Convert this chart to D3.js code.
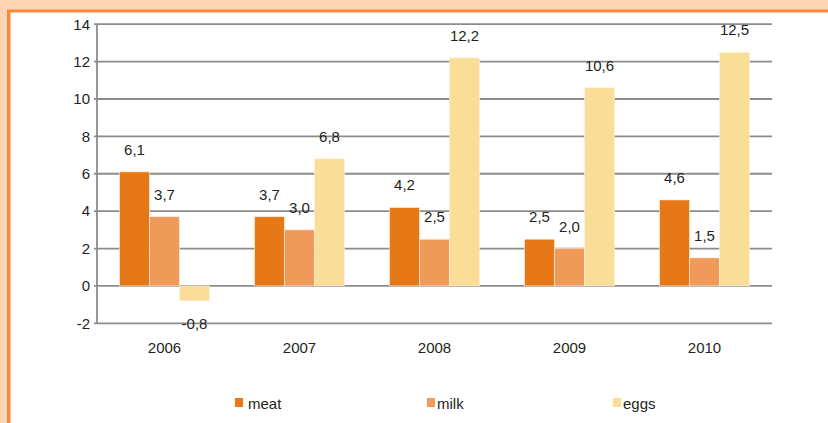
<!DOCTYPE html>
<html><head><meta charset="utf-8">
<script src="https://cdn.jsdelivr.net/npm/d3@7"></script>
<style>body{margin:0;background:#fff}svg{display:block;font-family:"Liberation Sans",Arial,sans-serif}</style>
</head><body><svg id="c" width="828" height="423"></svg>
<script>
const years = ["2006","2007","2008","2009","2010"];
const seriesNames = ["meat","milk","eggs"];
const meat = [6.1, 3.7, 4.2, 2.5, 4.6];
const milk = [3.7, 3.0, 2.5, 2.0, 1.5];
const eggs = [-0.8, 6.8, 12.2, 10.6, 12.5];
const yTicks = [-2, 0, 2, 4, 6, 8, 10, 12, 14];
const colors = ["#e67817", "#f09a5a", "#fadd97"];
const FS = 15;

const svg = d3.select("#c");
// frame
svg.append("rect").attr("x",0).attr("y",0).attr("width",828).attr("height",423).attr("fill","#fdd5b5");
svg.append("rect").attr("x",7).attr("y",9.5).attr("width",821).attr("height",423).attr("fill","#f98a3a");
svg.append("rect").attr("x",10.5).attr("y",12.5).attr("width",818).attr("height",423).attr("fill","#ffffff");

const x0 = d3.scaleBand().domain(years).range([97, 772]).paddingInner(0).paddingOuter(0);
const groupW = 90;
const x1 = d3.scaleBand().domain(seriesNames).range([0, groupW]);
const y = d3.scaleLinear().domain([-2, 14]).range([323.3, 24.2]);

const grid = svg.append("g");
yTicks.forEach(t => {
  grid.append("line").attr("x1",94).attr("x2",772).attr("y1",y(t)).attr("y2",y(t))
    .attr("stroke","#8c8c8c").attr("stroke-width",1.8);
});
grid.append("line").attr("x1",97).attr("x2",97).attr("y1",y(14)).attr("y2",y(-2))
  .attr("stroke","#8c8c8c").attr("stroke-width",1.8);

const yAxis = d3.axisLeft(y).tickValues(yTicks).tickSize(0).tickPadding(0).tickFormat(d => String(d));
const ga = svg.append("g").attr("transform","translate(90,0)").call(yAxis);
ga.select(".domain").remove();
ga.selectAll("text").attr("font-size",FS).attr("fill","#231f20").attr("font-family","Liberation Sans, Arial, sans-serif").attr("x",0);

const seriesData = [meat, milk, eggs];
const fmt = v => d3.format(".1f")(v).replace(".", ",").replace("−","-");
seriesNames.forEach((s, si) => {
  const g = svg.append("g");
  years.forEach((yr, i) => {
    const v = seriesData[si][i];
    const bx = x0(yr) + (x0.bandwidth() - groupW)/2 + x1(s);
    g.append("rect").attr("x", bx).attr("width", x1.bandwidth())
      .attr("y", y(Math.max(0, v))).attr("height", Math.abs(y(v) - y(0)))
      .attr("fill", colors[si]).attr("stroke","#fff3e6").attr("stroke-width",0.6);
    g.append("text").attr("x", bx + x1.bandwidth()/2)
      .attr("y", v >= 0 ? y(v) - 17 : y(v) + 28)
      .attr("text-anchor","middle").attr("font-size",FS).attr("fill","#231f20")
      .text(fmt(v));
  });
});

const xAxis = d3.axisBottom(x0).tickSize(0).tickPadding(0);
const gx = svg.append("g").attr("transform","translate(0,348)").call(xAxis);
gx.select(".domain").remove();
gx.selectAll("text").attr("font-size",FS).attr("fill","#231f20").attr("font-family","Liberation Sans, Arial, sans-serif").attr("dy","0.3em");

const legX = [235, 427, 613];
seriesNames.forEach((s, i) => {
  svg.append("rect").attr("x", legX[i]).attr("y", 398).attr("width", 8).attr("height", 9).attr("fill", colors[i]);
  svg.append("text").attr("x", legX[i] + (i === 0 ? 13 : 10)).attr("y", 408.5).attr("font-size",FS).attr("fill","#231f20").text(s);
});
</script></body></html>
